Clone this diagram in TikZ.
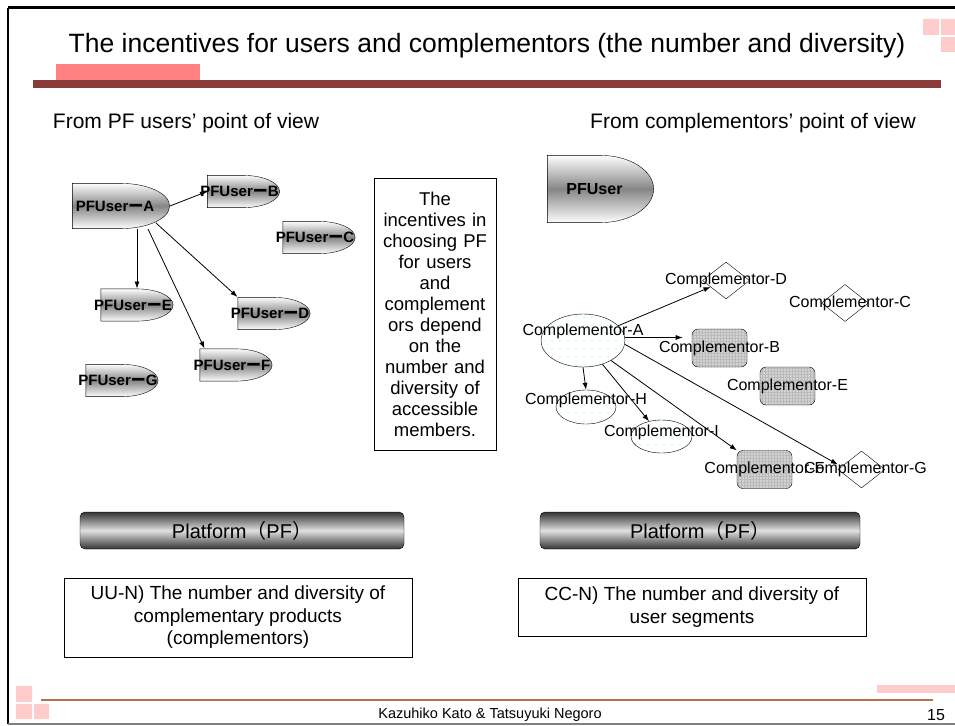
\documentclass[tikz,border=0pt]{standalone}
\usepackage{fontspec}
\setmainfont{Liberation Sans}
\newfontfamily\cjk{Noto Sans CJK JP}
\usetikzlibrary{arrows.meta,calc,shapes.geometric,patterns.meta}
\usetikzlibrary{positioning}

\definecolor{barred}{HTML}{8B3A3A}
\definecolor{accent}{HTML}{FF8080}
\definecolor{lightpink}{HTML}{FFCCCC}
\definecolor{footline}{HTML}{B8704C}

% body of a user node: flat on the left, half ellipse on the right
\newcommand{\userbody}{%
 \path[draw=black, top color=white, bottom color=white, middle color=gray!95]
  let \p1=(path picture bounding box.south west),
      \p2=(path picture bounding box.north east) in
  (\x1+.4pt,\y1+.4pt) -- (\x1+.4pt,\y2-.4pt) -- ({(\x1+\x2)/2},\y2-.4pt)
  arc[start angle=90, end angle=-90, x radius={(\x2-\x1)/2-.4pt}, y radius={(\y2-\y1)/2-.4pt}]
  -- cycle;}

\tikzstyle{pfuser} = [rectangle, minimum width=73pt, minimum height=33pt, inner sep=0pt, outer sep=0pt, path picture={\userbody}]
\tikzstyle{pflabel} = [font=\bfseries\fontsize{15}{15}\selectfont, xshift=-4pt]
\tikzstyle{complabel} = [font=\fontsize{16}{16}\selectfont]
\tikzstyle{compdia} = [diamond, draw, minimum width=47pt, minimum height=37pt, inner sep=0pt]
\tikzstyle{compbox} = [rectangle, rounded corners=6pt, draw, minimum width=55pt, minimum height=38pt, preaction={fill=gray!35}, pattern={Hatch[angle=0,distance=3pt,line width=.6pt]}, pattern color=gray!55]
\tikzstyle{compell} = [ellipse, draw, inner sep=0pt, pattern={Dots[distance=8pt,radius=.8pt]}, pattern color=cyan!35]
\tikzstyle{platform} = [rectangle, rounded corners=5pt, draw=black, minimum width=324pt, minimum height=37pt, top color=black!80, bottom color=black!80, middle color=black!12, font=\fontsize{20}{20}\selectfont]
\tikzstyle{textbox} = [rectangle, draw=black, align=center, font=\fontsize{19}{22.5}\selectfont]
\tikzstyle{arr} = [-{Latex[length=7pt,width=5pt]}, line width=.8pt]

\begin{document}
\begin{tikzpicture}[x=1pt, y=-1pt]
\useasboundingbox (0,0) rectangle (955,725);

% slide frame and title bar
\draw[line width=3pt] (955,8) -- (8,8);
\draw[line width=2.5pt] (8,8) -- (8,724);
\draw[gray, line width=1.5pt] (8,724) -- (955,724);
\fill[lightpink] (923,19) rectangle (939,35) (941,19) rectangle (955,35) (941,37) rectangle (955,52);
\fill[accent] (56,64) rectangle (200,80);
\fill[barred] (33,80) rectangle (941,88);
\node (title) [font=\fontsize{26.5}{30}\selectfont] at (487,46) {The incentives for users and complementors (the number and diversity)};

\node (userview) [font=\fontsize{21}{24}\selectfont] at (186,123) {From PF users’ point of view};
\node (compview) [font=\fontsize{21}{24}\selectfont] at (753,123) {From complementors’ point of view};

% users side
\node (userA) [pfuser, minimum width=98pt, minimum height=46pt, label={[pflabel, xshift=-2pt]center:PFUser{\cjk ー}A}] at (121,206) {};
\node (userB) [pfuser, label={[pflabel]center:PFUser{\cjk ー}B}] at (243.5,191.5) {};
\node (userC) [pfuser, label={[pflabel]center:PFUser{\cjk ー}C}] at (319,237.5) {};
\node (userE) [pfuser, label={[pflabel]center:PFUser{\cjk ー}E}] at (137,305) {};
\node (userD) [pfuser, label={[pflabel]center:PFUser{\cjk ー}D}] at (274,313.5) {};
\node (userF) [pfuser, label={[pflabel]center:PFUser{\cjk ー}F}] at (236,365) {};
\node (userG) [pfuser, label={[pflabel]center:PFUser{\cjk ー}G}] at (122,380.5) {};

\draw[arr] (userA.east) -- (userB.west);
\draw[arr] (userA.south -| userE.north) -- (userE.north);
\draw[arr] ([xshift=-14pt,yshift=6pt]userA.south east) -- (userD.north west);
\draw[arr] ([xshift=27pt]userA.south) -- ([xshift=5pt]userF.north west);

\node (incentives) [rectangle, draw=black, text width=112pt, inner xsep=5pt, minimum height=272pt, align=center, font=\fontsize{18.5}{21}\selectfont] at (435,314)
 {The\\incentives in\\choosing PF\\for users\\and\\complement\\ors depend\\on the\\number and\\diversity of\\accessible\\members.};

% complementors side
\node (pfuser) [pfuser, minimum width=107pt, minimum height=68pt, label={[font=\bfseries\fontsize{16}{16}\selectfont, xshift=-6pt]center:PFUser}] at (600.5,189) {};

\node (compD) [compdia, label={[complabel]center:Complementor-D}] at (726,280.5) {};
\node (compC) [compdia, label={[complabel, xshift=5pt]center:Complementor-C}] at (845,303) {};
\node (compA) [compell, minimum width=84pt, minimum height=53pt, label={[complabel, yshift=9pt]center:Complementor-A}] at (583,340.5) {};
\node (compB) [compbox, label={[complabel]center:Complementor-B}] at (719.5,348) {};
\node (compE) [compbox, label={[complabel]center:Complementor-E}] at (787.5,386) {};
\node (compH) [compell, minimum width=60pt, minimum height=34pt, label={[complabel, yshift=7pt]center:Complementor-H}] at (586,407) {};
\node (compI) [compell, minimum width=61pt, minimum height=33pt, label={[complabel, yshift=4pt]center:Complementor-I}] at (661.5,436.5) {};
\node (compF) [compbox, label={[complabel]center:Complementor-F}] at (764.5,469.5) {};
\node (compG) [compdia, label={[complabel, xshift=4pt]center:Complementor-G}] at (861.5,469.5) {};

\draw[arr] (compA) -- (compD);
\draw[arr] ([yshift=3pt]compA.east) -- ([xshift=-9pt,yshift=3pt]compB.west |- compA.east);
\draw[arr] (compA.south) -- (compH.north);
\draw[arr] (compA) -- (compI);
\draw[arr] (compA) -- (compF.north west);
\draw[arr] ([yshift=-4pt]compA.east) -- ([yshift=5pt]compG.west);

% platforms and what each side looks for
\node (pfleft) [platform] at (242,530.5) {Platform{\cjk （}PF{\cjk ）}};
\node (pfright) [platform, minimum width=320pt] at (700,530.5) {Platform{\cjk （}PF{\cjk ）}};

\node (uun) [textbox, minimum width=348pt, minimum height=79pt] at (238,617.5) {UU-N) The number and diversity of\\complementary products\\(complementors)};
\node (ccn) [textbox, minimum width=348pt, minimum height=58pt] at (692,607) {CC-N) The number and diversity of\\user segments};

% footer
\fill[lightpink] (16,686) rectangle (32,702) (16,704) rectangle (32,719) (34,704) rectangle (49,719);
\fill[lightpink] (877,685) rectangle (955,693);
\draw[footline, line width=2pt] (41,700) -- (933,700);
\node (authors) [font=\fontsize{14.5}{16}\selectfont] at (490,715) {Kazuhiko Kato \& Tatsuyuki Negoro};
\node (pageno) [font=\fontsize{16}{16}\selectfont] at (936,715) {15};
\end{tikzpicture}
\end{document}
